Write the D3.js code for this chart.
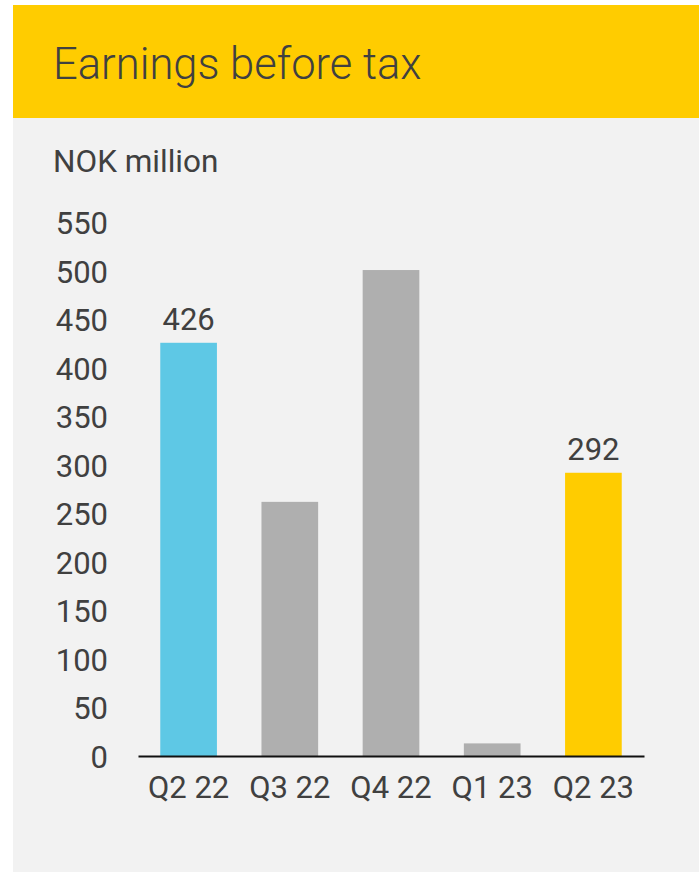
<!DOCTYPE html>
<html>
<head>
<meta charset="utf-8">
<script src="https://cdn.jsdelivr.net/npm/d3@7"></script>
<style>
  body { margin: 0; background: #fff; }
  text { font-family: Roboto, sans-serif; fill: #404040; }
</style>
</head>
<body>
<svg class="chart"></svg>
<script>
var quarters = ["Q2 22", "Q3 22", "Q4 22", "Q1 23", "Q2 23"];
var earnings = [426, 262, 501, 13, 292];
var barColors = ["#5ec8e5", "#afafaf", "#afafaf", "#afafaf", "#ffcc00"];
var labelled = [true, false, false, false, true];
var yTicks = [0, 50, 100, 150, 200, 250, 300, 350, 400, 450, 500, 550];

var W = 699, H = 873;

var svg = d3.select(".chart")
    .attr("width", W)
    .attr("height", H);

// panel + header
svg.append("rect")
    .attr("x", 13).attr("y", 5)
    .attr("width", W - 13).attr("height", 867)
    .attr("fill", "#f2f2f2");

svg.append("rect")
    .attr("x", 13).attr("y", 5)
    .attr("width", W - 13).attr("height", 113)
    .attr("fill", "#ffcc00");

svg.append("text")
    .attr("x", 53).attr("y", 79)
    .style("font-size", "43.5px")
    .style("font-weight", 300)
    .text("Earnings before tax");

svg.append("text")
    .attr("x", 53).attr("y", 172)
    .style("font-size", "31.5px")
    .text("NOK million");

var data = quarters.map(function(q, i) {
  return {q: q, v: earnings[i], color: barColors[i], label: labelled[i]};
});

var x = d3.scaleBand()
    .domain(quarters)
    .range([138, 644])
    .paddingInner(0.44)
    .paddingOuter(0.22);

var y = d3.scaleLinear()
    .domain([0, 550])
    .range([756, 222.5]);

// y axis labels only
var yAxis = svg.append("g")
    .attr("transform", "translate(108,0)")
    .call(d3.axisLeft(y).tickValues(yTicks).tickSize(0).tickPadding(0));
yAxis.select(".domain").remove();
yAxis.selectAll("text")
    .style("font-size", "31px")
    .attr("fill", "#404040")
    .attr("dy", "0.36em");

svg.selectAll(".bar")
    .data(data)
  .enter().append("rect")
    .attr("class", "bar")
    .attr("x", function(d) { return x(d.q); })
    .attr("y", function(d) { return y(d.v); })
    .attr("width", x.bandwidth())
    .attr("height", function(d) { return y(0) - y(d.v); })
    .attr("fill", function(d) { return d.color; });

svg.selectAll(".val")
    .data(data.filter(function(d) { return d.label; }))
  .enter().append("text")
    .attr("class", "val")
    .attr("x", function(d) { return x(d.q) + x.bandwidth() / 2; })
    .attr("y", function(d) { return y(d.v) - 13; })
    .attr("text-anchor", "middle")
    .style("font-size", "31px")
    .text(function(d) { return d.v; });

// x axis
var xAxis = svg.append("g")
    .attr("transform", "translate(0," + y(0) + ")")
    .call(d3.axisBottom(x).tickSize(0).tickPadding(0).tickSizeOuter(0));
xAxis.select(".domain")
    .attr("stroke", "#111")
    .attr("stroke-width", 2);
xAxis.selectAll("text")
    .style("font-size", "31px")
    .attr("fill", "#404040")
    .attr("dy", null)
    .attr("y", 42);
</script>
</body>
</html>
